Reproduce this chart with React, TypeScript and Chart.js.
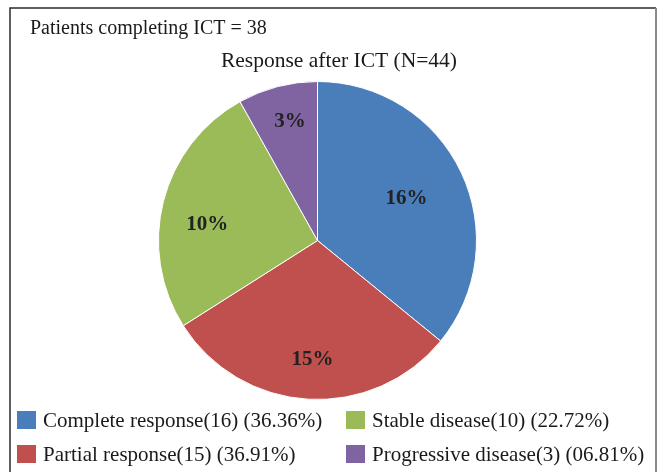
import React, { useEffect, useRef } from "react";
import { Chart, registerables } from "chart.js";

Chart.register(...registerables);

const categories = ["Complete response", "Partial response", "Stable disease", "Progressive disease"];
// slice sizes as drawn in the reference (share of the pie, %)
const sliceShares = [35.9, 30.1, 25.9, 8.1];
const sliceLabels = ["16%", "15%", "10%", "3%"];
const legendLabels = [
  "Complete response(16) (36.36%)",
  "Partial response(15) (36.91%)",
  "Stable disease(10) (22.72%)",
  "Progressive disease(3) (06.81%)",
];
const colors = ["#4A7EBB", "#C0504D", "#9BBB59", "#8064A2"];
const titleText = "Response after ICT (N=44)";
const noteText = "Patients completing ICT = 38";

// label placement: radial fraction and angular nudge (degrees)
const labelPlace = [
  { r: 0.62, da: 0 },
  { r: 0.75, da: -1 },
  { r: 0.7, da: -6 },
  { r: 0.77, da: 1.6 },
];
// legend grid: [col, row] for each category
const legendGrid = [
  [0, 0],
  [0, 1],
  [1, 0],
  [1, 1],
];
const legendColX = [17, 346];
const legendRowY = [411, 445];

const SERIF = '"Liberation Serif", "Times New Roman", serif';

const decorPlugin = {
  id: "decor",
  beforeDraw(chart: any) {
    const ctx = chart.ctx;
    ctx.save();
    ctx.fillStyle = "#ffffff";
    ctx.fillRect(0, 0, chart.width, chart.height);
    ctx.strokeStyle = "#2b2b2b";
    ctx.lineWidth = 1.5;
    ctx.beginPath();
    ctx.moveTo(10, chart.height);
    ctx.lineTo(10, 8);
    ctx.lineTo(656, 8);
    ctx.stroke();
    ctx.strokeStyle = "#8a8a8a";
    ctx.lineWidth = 2;
    ctx.beginPath();
    ctx.moveTo(656, 8);
    ctx.lineTo(656, chart.height);
    ctx.stroke();
    ctx.restore();
  },
  afterDatasetsDraw(chart: any) {
    const ctx = chart.ctx;
    const meta = chart.getDatasetMeta(0);
    ctx.save();
    ctx.fillStyle = "#222222";
    ctx.font = `bold 21px ${SERIF}`;
    ctx.textAlign = "center";
    ctx.textBaseline = "middle";
    meta.data.forEach((arc: any, i: number) => {
      const p = arc.getProps(["x", "y", "startAngle", "endAngle", "outerRadius"], true);
      const mid = (p.startAngle + p.endAngle) / 2 + (labelPlace[i].da * Math.PI) / 180;
      const rr = p.outerRadius * labelPlace[i].r;
      ctx.fillText(sliceLabels[i], p.x + Math.cos(mid) * rr, p.y + Math.sin(mid) * rr);
    });
    ctx.restore();
  },
  afterDraw(chart: any) {
    const ctx = chart.ctx;
    ctx.save();
    ctx.fillStyle = "#1a1a1a";
    ctx.textBaseline = "middle";
    ctx.font = `20px ${SERIF}`;
    ctx.textAlign = "left";
    ctx.fillText(noteText, 30, 29);
    ctx.font = `21.5px ${SERIF}`;
    ctx.textAlign = "center";
    ctx.fillText(titleText, 339, 61);
    ctx.font = `21px ${SERIF}`;
    ctx.textAlign = "left";
    legendLabels.forEach((lab, i) => {
      const [c, r] = legendGrid[i];
      const x = legendColX[c];
      const y = legendRowY[r];
      ctx.fillStyle = colors[i];
      ctx.fillRect(x, y, 19, 18);
      ctx.fillStyle = "#1a1a1a";
      ctx.fillText(lab, x + 26, y + 10);
    });
    ctx.restore();
  },
};

export default function App() {
  const ref = useRef<HTMLCanvasElement | null>(null);
  useEffect(() => {
    document.body.style.margin = "0";
    if (!ref.current) return;
    const chart = new Chart(ref.current, {
      type: "pie",
      data: {
        labels: categories,
        datasets: [
          {
            data: sliceShares,
            backgroundColor: colors,
            borderColor: "#ffffff",
            borderWidth: 1,
          },
        ],
      },
      options: {
        responsive: false,
        animation: false,
        layout: { padding: { top: 81, bottom: 72, left: 1, right: 25 } },
        plugins: {
          legend: { display: false },
          title: { display: false },
          tooltip: { enabled: false },
        },
      },
      plugins: [decorPlugin],
    });
    return () => chart.destroy();
  }, []);
  return (
    <div style={{ position: "absolute", left: 0, top: 0, width: 659, height: 472 }}>
      <canvas ref={ref} width={659} height={472} style={{ width: 659, height: 472 }} />
    </div>
  );
}
